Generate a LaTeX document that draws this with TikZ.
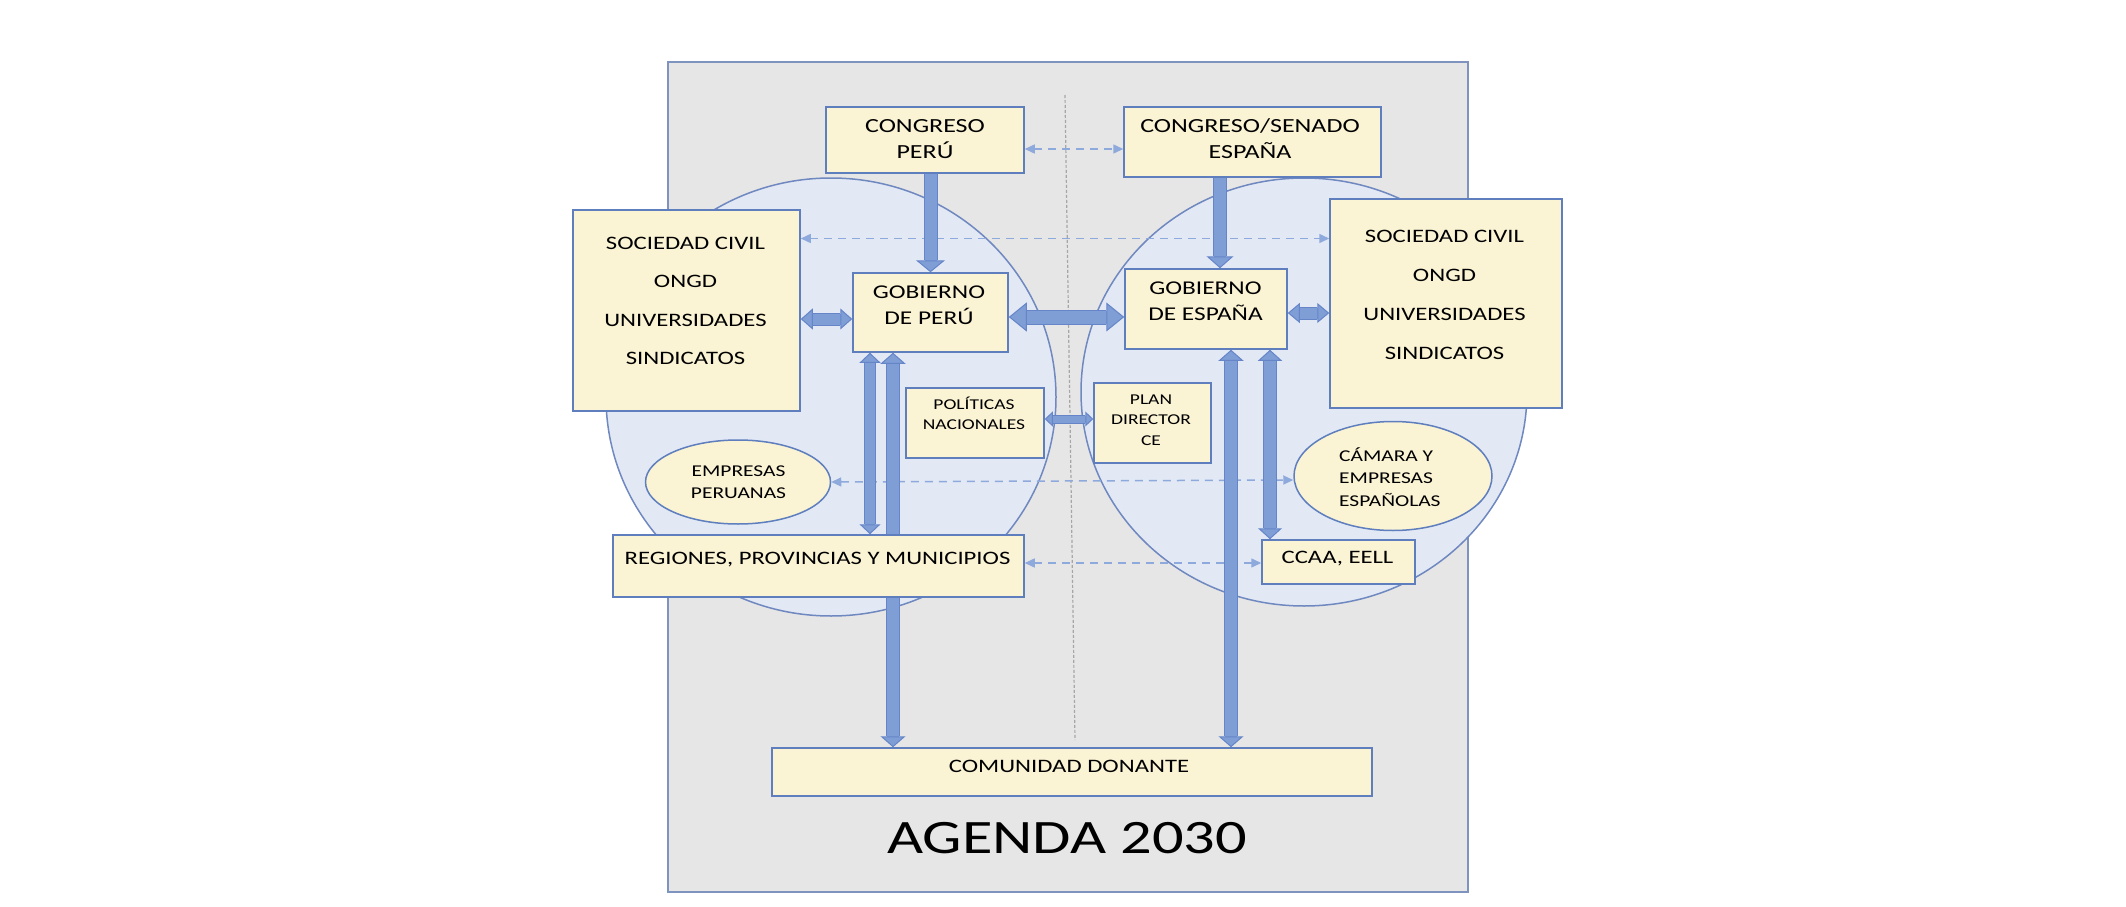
\documentclass[tikz,border=0pt]{standalone}
\usepackage{fontspec}
\setmainfont{Carlito}[FakeStretch=1.3]
\usetikzlibrary{arrows.meta,shapes.geometric}
\definecolor{bgfill}{HTML}{E7E6E6}
\definecolor{bgline}{HTML}{7E93BD}
\definecolor{cirfill}{HTML}{E2E9F5}
\definecolor{cirline}{HTML}{7088C0}
\definecolor{boxfill}{HTML}{FAF3D4}
\definecolor{boxline}{HTML}{5E7EBE}
\definecolor{arrfill}{HTML}{7F9ED6}
\definecolor{arrline}{HTML}{6585C8}
\definecolor{dashc}{HTML}{8EA9DB}
\definecolor{midline}{HTML}{A6A6A6}
\pgfdeclarelayer{back}\pgfdeclarelayer{dl}\pgfdeclarelayer{ar}
\pgfsetlayers{back,dl,ar,main}
\tikzset{
 ybox/.style 2 args={rectangle, draw=boxline, fill=boxfill, line width=1.5pt, inner sep=0pt, minimum width=#1, minimum height=#2},
 yell/.style 2 args={ellipse, draw=boxline, fill=boxfill, line width=1.5pt, inner sep=0pt, minimum width=#1, minimum height=#2},
 circ/.style 2 args={ellipse, draw=cirline, fill=cirfill, line width=1.5pt, inner sep=0pt, minimum width=#1, minimum height=#2},
 tx/.style 2 args={inner sep=0pt, align=center, font=\fontsize{#1}{#2}\selectfont},
 dsh/.style={draw=dashc, line width=1.5pt, dash pattern=on 8pt off 6pt, {Triangle[length=10pt,width=9pt]}-{Triangle[length=10pt,width=9pt]}},
 baone/.style n args={4}{draw=arrfill, line width=#1, -{Triangle[length=#3,width=#2,line width=1pt,color=arrline,fill=arrfill]}, preaction={draw=arrline, line width=#4, arrows=-, shorten >=#3}},
 batwo/.style n args={4}{draw=arrfill, line width=#1, {Triangle[length=#3,width=#2,line width=1pt,color=arrline,fill=arrfill]}-{Triangle[length=#3,width=#2,line width=1pt,color=arrline,fill=arrfill]}, preaction={draw=arrline, line width=#4, arrows=-, shorten <=#3, shorten >=#3}},
}
\begin{document}
\begin{tikzpicture}[x=1pt,y=-1pt]
\useasboundingbox (0,0) rectangle (2126,907);
\begin{pgfonlayer}{back}
\node[rectangle, draw=bgline, fill=bgfill, line width=1.5pt, minimum width=800pt, minimum height=830pt, inner sep=0pt] (bg) at (1068,477) {};
\node[circ={450pt}{438pt}] (lc) at (831,397) {};
\node[circ={446pt}{428pt}] (rc) at (1304,392) {};
\coordinate (ctop) at (1065,95);
\coordinate (cbot) at (1075,740);
\draw[midline, line width=1.2pt, dash pattern=on 3pt off 2pt] (ctop) -- (cbot);
\end{pgfonlayer}

% boxes
\node[ybox={198pt}{66pt}] (cp) at (925,140) {};
\node[ybox={257pt}{70pt}] (ce) at (1252.5,142) {};
\node[ybox={227pt}{201pt}] (sl) at (686.5,310.5) {};
\node[ybox={232pt}{209pt}] (sr) at (1446,303.5) {};
\node[ybox={155pt}{79pt}] (gp) at (930.5,312.5) {};
\node[ybox={162pt}{80pt}] (ge) at (1206,309) {};
\node[ybox={138pt}{70pt}] (pn) at (975,423) {};
\node[ybox={117pt}{80pt}] (pd) at (1152.5,423) {};
\node[yell={185pt}{84pt}] (ep) at (738,482) {};
\node[yell={198pt}{109pt}] (cam) at (1393,476) {};
\node[ybox={411pt}{62pt}] (rg) at (818.5,566) {};
\node[ybox={153pt}{44pt}] (cc) at (1338.5,562) {};
\node[ybox={600pt}{48pt}] (cd) at (1072,772) {};

% texts
\node[tx={20}{26}] (cpt) at (925,139.8) {\strut CONGRESO\\PERÚ\strut};
\node[tx={20}{26}] (cet) at (1250,139.8) {\strut CONGRESO/SENADO\\ESPAÑA\strut};
\node[tx={19}{38.5}] (slt) at (685.5,299.3) {\strut SOCIEDAD CIVIL\\ONGD\\UNIVERSIDADES\\SINDICATOS\strut};
\node[tx={19}{38.7}] (srt) at (1444.5,293.3) {\strut SOCIEDAD CIVIL\\ONGD\\UNIVERSIDADES\\SINDICATOS\strut};
\node[tx={19.5}{26}] (gpt) at (929,305.8) {\strut GOBIERNO\\DE PERÚ\strut};
\node[tx={19.5}{26}] (get) at (1205.5,301.8) {\strut GOBIERNO\\DE ESPAÑA\strut};
\node[tx={15}{20}] (pnt) at (974,415) {\strut POLÍTICAS\\NACIONALES\strut};
\node[tx={15}{20.5}] (pdt) at (1151,420.4) {\strut PLAN\\DIRECTOR\\CE\strut};
\node[tx={16.5}{22}] (ept) at (738.5,482.6) {\strut EMPRESAS\\PERUANAS\strut};
\node[tx={16.5}{22.5}, align=left, anchor=west] (camt) at (1339,479) {\strut CÁMARA Y\\EMPRESAS\\ESPAÑOLAS\strut};
\node[tx={19}{23}, anchor=base] (rgt) at (817.5,564) {REGIONES, PROVINCIAS Y MUNICIPIOS};
\node[tx={19}{23}, anchor=base] (cct) at (1337.5,563) {CCAA, EELL};
\node[tx={19}{23}, anchor=base] (cdt) at (1069,772) {COMUNIDAD DONANTE};
\node[tx={48}{56}, anchor=base] (ag) at (1067,853) {AGENDA 2030};

% helper coordinates
\coordinate (yda) at (0,149);
\coordinate (ydb) at (0,238.5);
\coordinate (ydc) at (0,480);
\coordinate (ydd) at (0,563);
\coordinate (xa2) at (1220,0);
\coordinate (ya3) at (0,319);
\coordinate (ya4) at (0,317);
\coordinate (ya5) at (0,313);
\coordinate (xa6) at (870,0);
\coordinate (xa7) at (893,0);
\coordinate (xa8) at (1231,0);
\coordinate (xa9) at (1270,0);
\coordinate (ya10) at (0,419);

\begin{pgfonlayer}{dl}
\draw[dsh] (cp.east |- yda) -- (ce.west |- yda);
\draw[dsh] (sl.east |- ydb) -- (sr.west |- ydb);
\draw[dsh] (ep.east) -- (cam.west |- ydc);
\draw[dsh] (rg.east |- ydd) -- (cc.west |- ydd);
\end{pgfonlayer}

\begin{pgfonlayer}{ar}
\draw[baone={12pt}{29pt}{12pt}{14pt}] (cp.south -| gp.north) -- (gp.north);
\draw[baone={12pt}{27pt}{12pt}{14pt}] (ce.south -| xa2) -- (ge.north -| xa2);
\draw[batwo={11pt}{21pt}{12pt}{13pt}] (sl.east |- ya3) -- (gp.west |- ya3);
\draw[batwo={13pt}{29pt}{18pt}{15pt}] (gp.east |- ya4) -- (ge.west |- ya4);
\draw[batwo={11pt}{20pt}{12pt}{13pt}] (ge.east |- ya5) -- (sr.west |- ya5);
\draw[batwo={10pt}{21pt}{10pt}{12pt}] (gp.south -| xa6) -- (rg.north -| xa6);
\draw[batwo={12pt}{25pt}{11pt}{14pt}] (gp.south -| xa7) -- (cd.north -| xa7);
\draw[batwo={12pt}{25pt}{11pt}{14pt}] (ge.south -| xa8) -- (cd.north -| xa8);
\draw[batwo={12pt}{24pt}{11pt}{14pt}] (ge.south -| xa9) -- (cc.north -| xa9);
\draw[batwo={7pt}{15pt}{8pt}{9pt}] (pn.east |- ya10) -- (pd.west |- ya10);
\end{pgfonlayer}
\end{tikzpicture}
\end{document}
